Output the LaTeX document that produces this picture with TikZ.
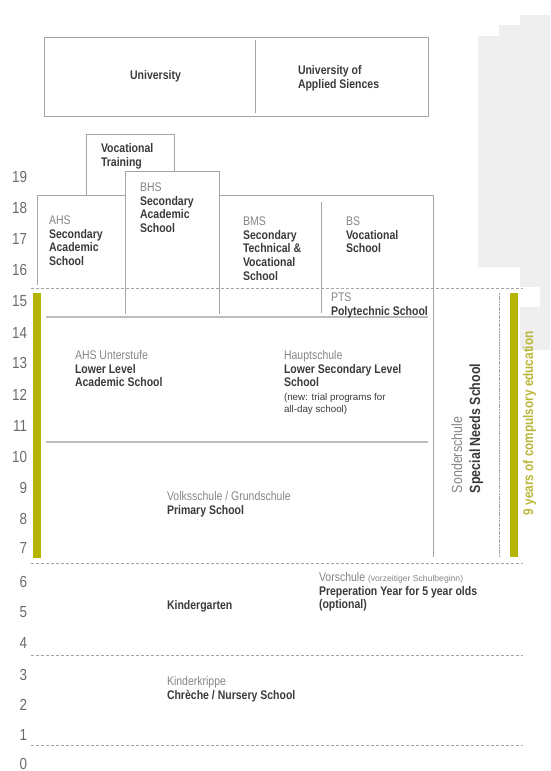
\documentclass[tikz,border=0pt]{standalone}
\usepackage{fontspec}
\setmainfont[FakeStretch=0.84]{Liberation Sans}
\newfontfamily\plainsans{Liberation Sans}
\definecolor{lineg}{HTML}{A4A4A4}
\definecolor{sepg}{HTML}{BDBDBD}
\definecolor{txt}{HTML}{3A3A3A}
\definecolor{lighttxt}{HTML}{858585}
\definecolor{numg}{HTML}{6A6A6A}
\definecolor{olive}{HTML}{B5B400}
\definecolor{olivetxt}{HTML}{B9B73A}
\definecolor{bgg}{HTML}{EFEFEF}
\newcommand{\lt}[1]{{\mdseries\color{lighttxt}#1}}
\tikzset{
  lbl/.style={anchor=base west, inner sep=0pt, outer sep=0pt, align=left, text=txt,
    font=\fontsize{12.5}{13.7}\selectfont\bfseries},
  smalllbl/.style={anchor=base west, inner sep=0pt, outer sep=0pt, align=left, text=txt,
    font=\plainsans\fontsize{9.8}{12}\selectfont},
  age/.style={anchor=base east, inner sep=0pt, outer sep=0pt, text=numg,
    font=\fontsize{16}{16}\selectfont},
  vlbl/.style={anchor=base west, inner sep=0pt, outer sep=0pt, rotate=90,
    font=\fontsize{14.8}{16}\selectfont},
  boxline/.style={draw=lineg, line width=1pt},
  sepline/.style={draw=sepg, line width=1.6pt},
  dashline/.style={draw=lineg, line width=1pt, dash pattern=on 3pt off 2pt},
  dotline/.style={draw=lineg, line width=1pt, dash pattern=on 2pt off 0.7pt},
  bar/.style={fill=olive, draw=none},
}
\begin{document}
\begin{tikzpicture}[x=1pt,y=-1pt]
\useasboundingbox (0,0) rectangle (550,771);
% grey background fragment at right
\fill[bgg] (478,36) -- (499,36) -- (499,25) -- (520,25) -- (520,15) -- (550,15)
  -- (550,350) -- (520,350) -- (520,267) -- (478,267) -- cycle;
\fill[white] (520,287) rectangle (540,307);

% dashed age separators
\coordinate (d1l) at (31,288);  \coordinate (d1r) at (523,288);
\coordinate (d2l) at (31,563);  \coordinate (d2r) at (523,563);
\coordinate (d3l) at (31,655);  \coordinate (d3r) at (523,655);
\coordinate (d4l) at (31,745);  \coordinate (d4r) at (523,745);
\draw[dashline] (d1l) -- (d1r);
\draw[dashline] (d2l) -- (d2r);
\draw[dashline] (d3l) -- (d3r);
\draw[dashline] (d4l) -- (d4r);

% University box
\draw[boxline] (44,37) rectangle (428,116);
\draw[boxline] (255,40) -- (255,113);

% Vocational training box
\draw[boxline] (86,195) -- (86,134) -- (174,134) -- (174,171);
% BHS box
\draw[boxline] (125,314) -- (125,171) -- (219,171) -- (219,314);
% AHS / BMS / BS upper box
\draw[boxline] (37,285) -- (37,195) -- (125,195);
\draw[boxline] (219,195) -- (433,195) -- (433,557);
\draw[boxline] (321,202) -- (321,313);
% separators of lower level
\draw[sepline] (46,317) -- (428,317);
\draw[sepline] (46,442) -- (428,442);
% special needs school right edge
\draw[dotline] (499,293) -- (499,557);

% compulsory education bars
\fill[bar] (33,293) rectangle (41,558);
\fill[bar] (510,293) rectangle (518,557);

% ages
\node[age] (a19) at (27,182.5) {19};
\node[age] (a18) at (27,213.5) {18};
\node[age] (a17) at (27,244.5) {17};
\node[age] (a16) at (27,275.5) {16};
\node[age] (a15) at (27,306.5) {15};
\node[age] (a14) at (27,338.5) {14};
\node[age] (a13) at (27,368.5) {13};
\node[age] (a12) at (27,400.5) {12};
\node[age] (a11) at (27,431.5) {11};
\node[age] (a10) at (27,462.5) {10};
\node[age] (a9) at (27,493.5) {9};
\node[age] (a8) at (27,524.5) {8};
\node[age] (a7) at (27,553.5) {7};
\node[age] (a6) at (27,587.5) {6};
\node[age] (a5) at (27,617.5) {5};
\node[age] (a4) at (27,648.5) {4};
\node[age] (a3) at (27,680.5) {3};
\node[age] (a2) at (27,710.5) {2};
\node[age] (a1) at (27,740.5) {1};
\node[age] (a0) at (27,769) {0};

% labels (anchor = baseline of the last line)
\node[lbl, anchor=base] (uni) at (155.5,79.5) {University};
\node[lbl] (fh) at (298,88.2) {University of\\Applied Siences};
\node[lbl] (voc) at (101,166.2) {Vocational\\Training};
\node[lbl] (bhs) at (140,232.6) {\lt{BHS}\\Secondary\\Academic\\School};
\node[lbl] (ahs) at (49,265.6) {\lt{AHS}\\Secondary\\Academic\\School};
\node[lbl] (bms) at (243,280.3) {\lt{BMS}\\Secondary\\Technical \&\\Vocational\\School};
\node[lbl] (bs) at (346,252.9) {\lt{BS}\\Vocational\\School};
\node[lbl] (pts) at (331,315.2) {\lt{PTS}\\Polytechnic School};
\node[lbl] (ahsu) at (75,386.9) {\lt{AHS Unterstufe}\\Lower Level\\Academic School};
\node[lbl] (hs) at (284,386.9) {\lt{Hauptschule}\\Lower Secondary Level\\School};
\node[smalllbl] (hsnew) at (284,412.5) {(new: trial programs for\\all-day school)};
\node[lbl] (vs) at (167,514) {\lt{Volksschule / Grundschule}\\Primary School};
\node[lbl] (kg) at (167,609.5) {Kindergarten};
\node[lbl] (vor) at (319,608.9) {\lt{Vorschule {\plainsans\fontsize{8.6}{10}\selectfont (vorzeitiger Schulbeginn)}}\\Preperation Year for 5 year olds\\(optional)};
\node[lbl] (kk) at (167,699.2) {\lt{Kinderkrippe}\\Chrèche / Nursery School};

% rotated labels
\node[vlbl, text=txt] (sonder) at (462,493) {\color{lighttxt}Sonderschule};
\node[vlbl, text=txt, font=\fontsize{14.8}{16}\selectfont\bfseries] (sns) at (480,493) {Special Needs School};
\node[vlbl, text=olivetxt, font=\fontsize{14}{16}\selectfont\bfseries] (nine) at (533,515) {9 years of compulsory education};
\end{tikzpicture}
\end{document}
